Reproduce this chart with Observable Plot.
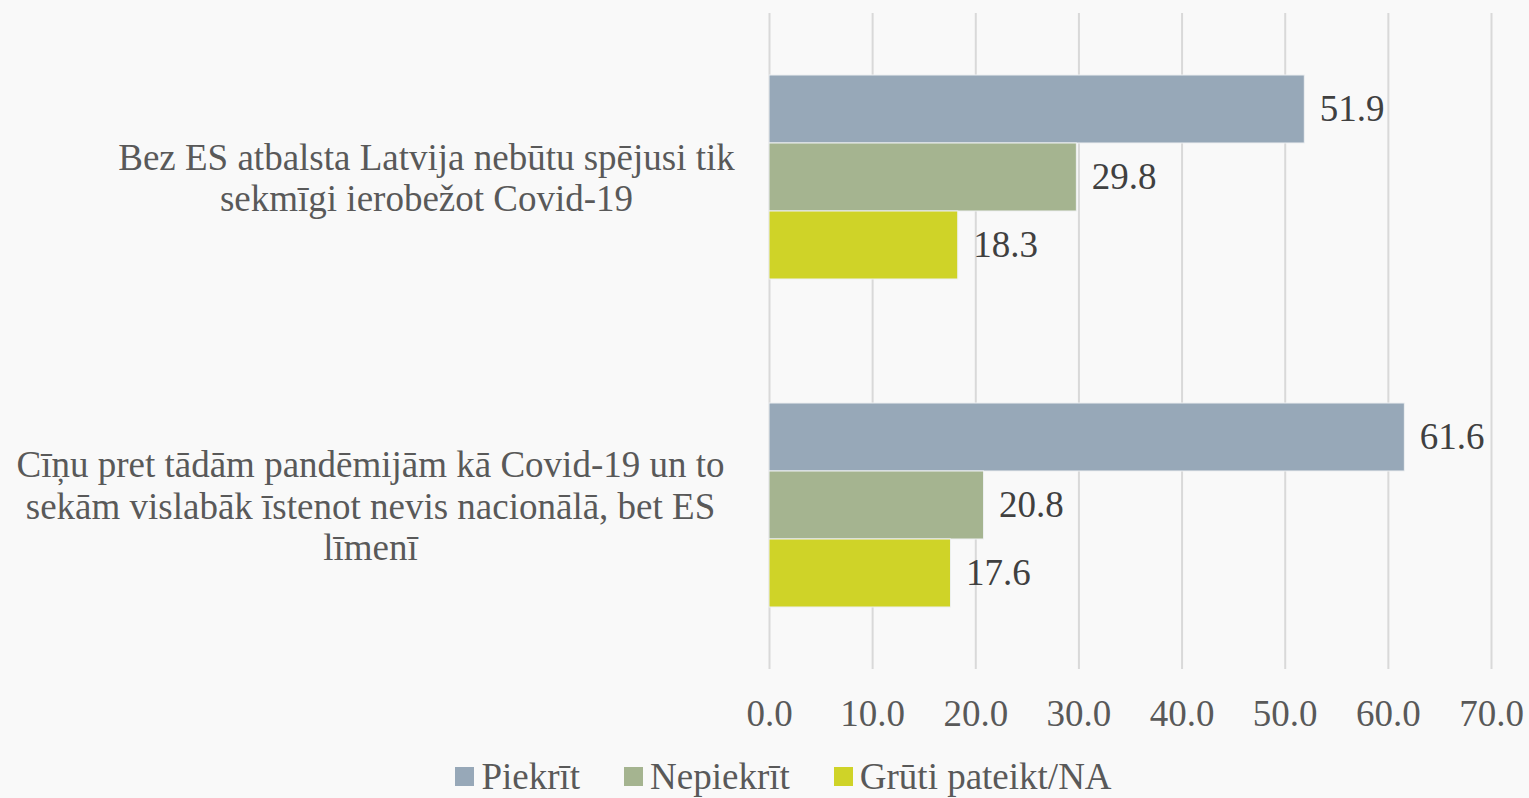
<!DOCTYPE html>
<html>
<head>
<meta charset="utf-8">
<script src="https://cdn.jsdelivr.net/npm/d3@7"></script>
<script src="https://cdn.jsdelivr.net/npm/@observablehq/plot@0.6"></script>
<style>
  html, body { margin: 0; padding: 0; background: #f9f9f9; }
  #chart { width: 1529px; }
  .legend { display: flex; justify-content: center; align-items: center; font-family: "Liberation Serif", "Times New Roman", serif; font-size: 37px; color: #595959; height: 43px; padding-left: 38px; box-sizing: border-box; width: 1529px; }
  .legend .item { display: flex; align-items: center; margin: 0 44px 0 0; }
  .legend .item:last-child { margin-right: 0; }
  .legend .sw { width: 19px; height: 19px; margin-right: 7px; }
</style>
</head>
<body>
<div id="chart"></div>
<script>
const questions = [
  "Bez ES atbalsta Latvija nebūtu spējusi tik sekmīgi ierobežot Covid-19",
  "Cīņu pret tādām pandēmijām kā Covid-19 un to sekām vislabāk īstenot nevis nacionālā, bet ES līmenī"
];
const questionLines = [
  "Bez ES atbalsta Latvija nebūtu spējusi tik\nsekmīgi ierobežot Covid-19",
  "Cīņu pret tādām pandēmijām kā Covid-19 un to\nsekām vislabāk īstenot nevis nacionālā, bet ES\nlīmenī"
];
const series = ["Piekrīt", "Nepiekrīt", "Grūti pateikt/NA"];
const piekrit = [51.9, 61.6];
const nepiekrit = [29.8, 20.8];
const gruti = [18.3, 17.6];
const colors = ["#97a8b8", "#a5b490", "#cfd328"];
const xTicks = [0, 10, 20, 30, 40, 50, 60, 70];

const values = [piekrit, nepiekrit, gruti];
const data = [];
questions.forEach((q, i) => series.forEach((s, j) => data.push({question: q, series: s, value: values[j][i]})));

const font = '"Liberation Serif", "Times New Roman", serif';

const plot = Plot.plot({
  width: 1529,
  height: 755,
  marginLeft: 769,
  marginRight: 38,
  marginTop: 13,
  marginBottom: 86,
  style: {fontFamily: font, background: "#f9f9f9", overflow: "visible"},
  x: {domain: [0, 70], label: null},
  y: {domain: series, paddingInner: 0, paddingOuter: 0.91, axis: null},
  fy: {domain: questions, padding: 0, axis: null},
  color: {domain: series, range: colors},
  marks: [
    Plot.gridX(xTicks, {stroke: "#d9d9d9", strokeOpacity: 1, strokeWidth: 2}),
    Plot.barX(data, {fy: "question", y: "series", x: "value", fill: "series", stroke: "#eef0f2", strokeWidth: 1}),
    Plot.text(data, {fy: "question", y: "series", x: "value", text: d => d3.format(".1f")(d.value), textAnchor: "start", dx: 15, fontSize: 37, fill: "#404040"}),
    Plot.text([questions[0]], {fy: d => d, text: () => questionLines[0], frameAnchor: "left", textAnchor: "middle", dx: -343, fontSize: 37, lineHeight: 1.12, fill: "#595959"}),
    Plot.text([questions[1]], {fy: d => d, text: () => questionLines[1], frameAnchor: "left", textAnchor: "middle", dx: -399, fontSize: 37, lineHeight: 1.12, fill: "#595959"}),
    Plot.axisX(xTicks, {tickFormat: d3.format(".1f"), tickSize: 0, tickPadding: 30, fontSize: 37, fill: "#595959", label: null})
  ]
});
document.getElementById("chart").appendChild(plot);

const legend = document.createElement("div");
legend.className = "legend";
series.forEach((s, i) => {
  const item = document.createElement("div");
  item.className = "item";
  const sw = document.createElement("span");
  sw.className = "sw";
  sw.style.background = colors[i];
  const lab = document.createElement("span");
  lab.textContent = s;
  item.appendChild(sw);
  item.appendChild(lab);
  legend.appendChild(item);
});
document.getElementById("chart").appendChild(legend);
</script>
</body>
</html>
